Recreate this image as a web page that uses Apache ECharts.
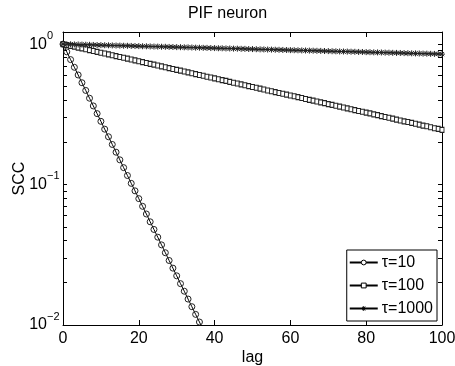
<!DOCTYPE html>
<html><head><meta charset="utf-8">
<script src="https://cdn.jsdelivr.net/npm/echarts@6/dist/echarts.min.js"></script>
<style>html,body{margin:0;padding:0;background:#fff}#c{width:455px;height:366px}</style>
</head><body><div id="c"></div>
<script>
const titleText = 'PIF neuron';
const seriesNames = ['τ=10', 'τ=100', 'τ=1000'];
const xTicks = [0, 20, 40, 60, 80, 100];
const yMajor = [0.01, 0.1, 1];
const yMinor = [0.01,0.02,0.03,0.04,0.05,0.06,0.07,0.08,0.09,0.1,0.2,0.3,0.4,0.5,0.6,0.7,0.8,0.9,1];
// SCC vs lag (index = lag)
const scc10 = [1,0.881,0.776,0.684,0.603,0.531,0.468,0.412,0.363,0.320,0.282,0.248,0.219,0.193,0.170,0.150,0.132,0.116,0.102,0.0902,0.0794,0.0700,0.0617,0.0543,0.0479,0.0422,0.0372,0.0327,0.0288,0.0254,0.0224,0.0197,0.0174,0.0153,0.0135,0.0119,0.0105,0.00923,0.00813];
const scc100 = [1.000,0.986,0.972,0.959,0.945,0.932,0.919,0.906,0.894,0.881,0.869,0.857,0.845,0.833,0.821,0.810,0.799,0.788,0.777,0.766,0.755,0.745,0.734,0.724,0.714,0.704,0.694,0.684,0.675,0.665,0.656,0.647,0.638,0.629,0.620,0.612,0.603,0.595,0.586,0.578,0.570,0.562,0.554,0.547,0.539,0.531,0.524,0.517,0.510,0.502,0.495,0.489,0.482,0.475,0.468,0.462,0.455,0.449,0.443,0.437,0.431,0.425,0.419,0.413,0.407,0.401,0.396,0.390,0.385,0.380,0.374,0.369,0.364,0.359,0.354,0.349,0.344,0.339,0.334,0.330,0.325,0.321,0.316,0.312,0.307,0.303,0.299,0.295,0.290,0.286,0.282,0.279,0.275,0.271,0.267,0.263,0.260,0.256,0.252,0.249,0.245];
const scc1000 = [1.000,0.998,0.997,0.995,0.994,0.992,0.990,0.989,0.987,0.985,0.984,0.982,0.981,0.979,0.977,0.976,0.974,0.973,0.971,0.969,0.968,0.966,0.965,0.963,0.961,0.960,0.958,0.957,0.955,0.954,0.952,0.951,0.949,0.948,0.946,0.944,0.943,0.941,0.940,0.938,0.937,0.935,0.934,0.932,0.931,0.929,0.928,0.926,0.925,0.923,0.922,0.920,0.918,0.917,0.915,0.914,0.912,0.911,0.909,0.908,0.906,0.905,0.904,0.902,0.901,0.899,0.898,0.896,0.895,0.893,0.892,0.890,0.889,0.887,0.886,0.885,0.883,0.882,0.880,0.879,0.877,0.876,0.874,0.873,0.872,0.870,0.869,0.867,0.866,0.865,0.863,0.862,0.860,0.859,0.858,0.856,0.855,0.853,0.852,0.851,0.849];

const FONT = 'Liberation Sans';
const chart = echarts.init(document.getElementById('c'), null, {renderer: 'canvas'});
const pairs = a => a.map((v, i) => [i, v]);
const star = 'path://M0,5L10,5M5,0L5,10M1.5,1.5L8.5,8.5M8.5,1.5L1.5,8.5';
const axisCommon = {
  axisLine: {show: true, onZero: false, lineStyle: {color: '#000', width: 1}},
  splitLine: {show: false}
};
const expText = v => String(Math.round(Math.log10(v))).replace('-', '\u2212');
const yBase = {type: 'log', logBase: 10, min: 0.01, max: 1.22, splitLine: {show: false}};
chart.setOption({
  animation: false,
  backgroundColor: '#fff',
  title: {text: titleText, left: 'center', top: 1, textStyle: {fontSize: 16, fontWeight: 'normal', fontFamily: FONT, color: '#000'}},
  grid: {left: 63, right: 13, top: 32, bottom: 41, outerBoundsMode: 'none'},
  legend: {
    orient: 'vertical', right: 18, bottom: 45,
    backgroundColor: '#fff', borderColor: '#000', borderWidth: 1,
    padding: [4, 4, 4, 2], itemGap: 6, itemWidth: 28, itemHeight: 6,
    textStyle: {fontSize: 16, fontFamily: FONT, color: '#000', lineHeight: 17, padding: [0, 0, 0, -1]},
    data: [
      {name: seriesNames[0], itemStyle: {color: '#fff', borderColor: '#000', borderWidth: 1}},
      {name: seriesNames[1], itemStyle: {color: '#fff', borderColor: '#000', borderWidth: 1}},
      {name: seriesNames[2], itemStyle: {color: '#000', borderColor: '#000', borderWidth: 1}}
    ]
  },
  xAxis: [
    Object.assign({type: 'value', min: 0, max: 100, interval: 20, position: 'bottom',
      axisTick: {inside: true, length: 5, lineStyle: {color: '#000'}},
      axisLabel: {fontSize: 16, fontFamily: FONT, color: '#000', margin: 6},
      name: 'lag', nameLocation: 'middle', nameGap: 25, nameMoveOverlap: false,
      nameTextStyle: {fontSize: 16, fontFamily: FONT, color: '#000'}}, axisCommon),
    Object.assign({type: 'value', min: 0, max: 100, interval: 20, position: 'top',
      axisTick: {inside: true, length: 5, lineStyle: {color: '#000'}},
      axisLabel: {show: false}}, axisCommon)
  ],
  yAxis: [
    Object.assign({}, yBase, axisCommon, {position: 'left',
      axisTick: {inside: true, length: 4, customValues: yMinor, lineStyle: {color: '#000'}},
      axisLabel: {customValues: yMajor, formatter: () => '10', fontSize: 16, fontFamily: FONT, color: '#000',
        margin: 16, padding: [2, 0, 0, 0]},
      name: 'SCC', nameLocation: 'middle', nameGap: 35, nameMoveOverlap: false,
      nameTextStyle: {fontSize: 16, fontFamily: FONT, color: '#000'}}),
    Object.assign({}, yBase, {position: 'left',
      axisLine: {show: false}, axisTick: {show: false},
      axisLabel: {customValues: yMajor, formatter: expText, fontSize: 11, fontFamily: FONT, color: '#000',
        align: 'left', verticalAlign: 'bottom', lineHeight: 11, margin: 16, padding: [0, 0, 3, 0]}}),
    Object.assign({}, yBase, axisCommon, {position: 'right',
      axisTick: {inside: true, length: 4, customValues: yMinor, lineStyle: {color: '#000'}},
      axisLabel: {show: false}})
  ],
  series: [
    {name: seriesNames[0], type: 'line', data: pairs(scc10), symbol: 'circle', symbolSize: 6,
     showAllSymbol: true, clip: true,
     lineStyle: {color: '#000', width: 1}, itemStyle: {color: 'rgba(255,255,255,0)', borderColor: '#222', borderWidth: 1}},
    {name: seriesNames[1], type: 'line', data: pairs(scc100), symbol: 'rect', symbolSize: [4, 5],
     showAllSymbol: true, clip: true,
     lineStyle: {color: '#000', width: 1}, itemStyle: {color: '#fff', borderColor: '#222', borderWidth: 1}},
    {name: seriesNames[2], type: 'line', data: pairs(scc1000), symbol: star, symbolSize: 6,
     showAllSymbol: true, clip: true,
     lineStyle: {color: '#000', width: 1}, itemStyle: {color: 'rgba(0,0,0,0)', borderColor: '#222', borderWidth: 1}}
  ]
});
</script></body></html>
